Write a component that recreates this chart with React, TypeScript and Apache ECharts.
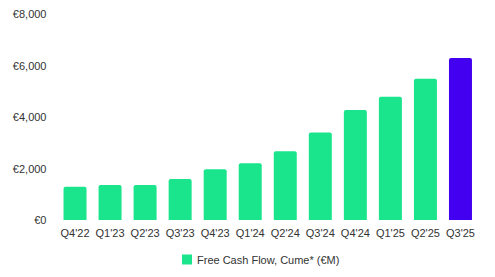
import React, { useEffect, useRef } from "react";
import * as echarts from "echarts";

const categories = ["Q4'22", "Q1'23", "Q2'23", "Q3'23", "Q4'23", "Q1'24", "Q2'24", "Q3'24", "Q4'24", "Q1'25", "Q2'25", "Q3'25"];
const values = [1290, 1355, 1355, 1590, 1970, 2200, 2670, 3400, 4270, 4790, 5490, 6290];
const seriesName = "Free Cash Flow, Cume* (€M)";
const green = "#1BE58C";
const purple = "#4300F0";

export default function App() {
  const ref = useRef<HTMLDivElement>(null);
  useEffect(() => {
    if (!ref.current) return;
    const chart = echarts.init(ref.current, undefined, { renderer: "svg" });
    const font = "Liberation Sans, Arial, sans-serif";
    chart.setOption({
      animation: false,
      textStyle: { fontFamily: font },
      grid: { left: 57.5, right: 17, top: 14, bottom: 57 },
      legend: {
        bottom: 7,
        left: 177,
        itemWidth: 10,
        itemHeight: 10,
        icon: "rect",
        itemGap: 10,
        textStyle: { fontSize: 11, color: "#333", fontFamily: font },
        data: [{ name: seriesName, itemStyle: { color: green } }],
      },
      xAxis: {
        type: "category",
        data: categories,
        axisLine: { show: false },
        axisTick: { show: false },
        axisLabel: { interval: 0, fontSize: 11, color: "#333", margin: 7, fontFamily: font },
      },
      yAxis: {
        type: "value",
        min: 0,
        max: 8000,
        interval: 2000,
        splitLine: { show: false },
        axisLine: { show: false },
        axisTick: { show: false },
        axisLabel: {
          fontSize: 11,
          color: "#333",
          margin: 11,
          fontFamily: font,
          formatter: (v: number) => "€" + v.toLocaleString("en-US"),
        },
      },
      series: [
        {
          name: seriesName,
          type: "bar",
          barWidth: 23,
          itemStyle: { color: green, borderRadius: [2, 2, 0, 0] },
          data: values.map((v, i) =>
            i === values.length - 1 ? { value: v, itemStyle: { color: purple } } : v
          ),
        },
      ],
    });
    return () => chart.dispose();
  }, []);
  return <div ref={ref} style={{ width: 495, height: 277, position: "absolute", left: 0, top: 0 }} />;
}
